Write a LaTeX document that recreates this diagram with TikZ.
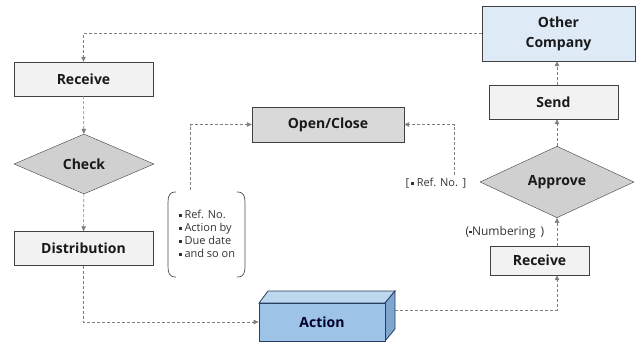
\documentclass[tikz,border=0pt]{standalone}
\usepackage{fontspec}
\setmainfont{Open Sans}
\usetikzlibrary{arrows.meta,positioning,calc,shapes.geometric}
\definecolor{boxfill}{HTML}{F2F2F2}
\definecolor{decfill}{HTML}{D0D0D0}
\definecolor{openfill}{HTML}{D9D9D9}
\definecolor{compfill}{HTML}{DEEBF7}
\definecolor{actfront}{HTML}{9DC3E6}
\definecolor{acttop}{HTML}{BDD7EE}
\definecolor{actside}{HTML}{7EA6CF}
\definecolor{actline}{HTML}{243F60}
\definecolor{linkgray}{HTML}{7F7F7F}
\newcommand{\sqbul}{\raisebox{1.8pt}{\rule{2.8pt}{2.8pt}}}

\begin{document}
\begin{tikzpicture}[x=1pt, y=-1pt,
  stepbox/.style={draw=black!75, fill=boxfill, minimum width=139pt, minimum height=34pt, inner sep=2pt, text=black!90, font=\bfseries\fontsize{14}{20}\selectfont},
  decision/.style={diamond, draw=black!75, fill=decfill, minimum width=140pt, minimum height=60pt, inner sep=0pt, text=black!90, font=\bfseries\fontsize{14}{16}\selectfont},
  note/.style={text=black!80, inner sep=1pt, font=\fontsize{11}{13}\selectfont},
  brk/.style={draw=black!70, line width=0.7pt},
  arr/.style={-{Triangle[length=5pt, width=4.5pt]}, densely dashed, linkgray, line width=0.6pt}
]
  \useasboundingbox (0,0) rectangle (639,345);

  \node[stepbox] (rcvA) at (83.5,79) {Receive};
  \node[decision] (chk) at (84,164) {Check};
  \node[stepbox] (dist) at (83.5,248.5) {Distribution};
  \node[stepbox, fill=openfill, minimum width=152pt, minimum height=35pt] (opn) at (328,124.5) {Open/Close};
  \node[stepbox, fill=compfill, minimum width=153pt, minimum height=55pt, align=center] (oth) at (558.5,33.5) {Other\\Company};
  \node[stepbox, minimum width=129pt] (send) at (553.5,102) {Send};
  \node[decision, minimum width=154pt] (appr) at (557,182) {Approve};
  \node[stepbox, minimum width=99pt, minimum height=29pt] (rcvB) at (539.5,260.5) {Receive};

  \fill[acttop, draw=actline, line width=0.8pt] (259,303) -- (268,291) -- (395,291) -- (385,303) -- cycle;
  \fill[actside, draw=actline, line width=0.8pt] (385,303) -- (395,291) -- (395,329) -- (385,341) -- cycle;
  \node[draw=actline, line width=0.8pt, fill=actfront, minimum width=126pt, minimum height=38pt, inner sep=0pt, text=black!85!blue, font=\bfseries\fontsize{14}{16}\selectfont] (act) at (322,322) {Action};
  \coordinate (actR) at ($(act.east)+(10,-12)$);

  \node[note, align=left] (lst) at (207,234) {\sqbul\ Ref. No.\\\sqbul\ Action by\\\sqbul\ Due date\\\sqbul\ and so on};
  \draw[brk] (176,192) .. controls (169,192) and (168,196) .. (168,203) -- (168,266) .. controls (168,273) and (169,277) .. (176,277);
  \draw[brk] (237,192) .. controls (244,192) and (245,196) .. (245,203) -- (245,266) .. controls (245,273) and (244,277) .. (237,277);
  \coordinate (lstTop) at (190,190);

  \node[note] (refl) at (436,183) {[\,\sqbul\ Ref. No.~\,]};
  \coordinate (refTop) at (454,175);
  \node[note, font=\fontsize{12}{14}\selectfont] (numl) at (505,232) {(\sqbul Numbering~\,)};

  \draw[arr] (oth.west) -| (rcvA.north);
  \draw[arr] (rcvA) -- (chk);
  \draw[arr] (chk) -- (dist);
  \draw[arr] (dist.south) |- (act.west);
  \draw[arr] (actR) -| (rcvB.south -| appr.south);
  \draw[arr] (appr.south |- rcvB.north) -- (appr.south);
  \draw[arr] (appr.north) -- (appr.north |- send.south);
  \draw[arr] (appr.north |- send.north) -- (appr.north |- oth.south);
  \draw[arr] (lstTop) |- (opn.west);
  \draw[arr] (refTop) |- (opn.east);
\end{tikzpicture}
\end{document}
